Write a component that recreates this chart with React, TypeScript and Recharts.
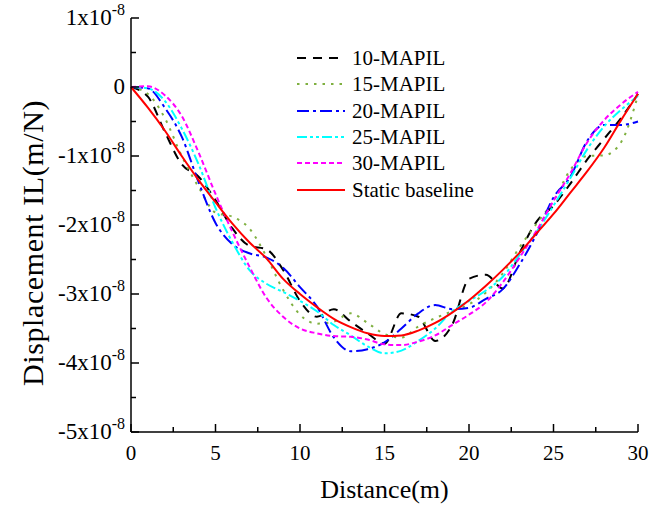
import React from "react"
import { LineChart, Line, XAxis, YAxis, Legend } from "recharts"

const FONT = '"Liberation Serif", "Times New Roman", serif'

// distance along the beam (m)
const distance = [0, 1, 2, 3, 4, 5, 6, 7, 8, 9, 10, 11, 12, 13, 14, 15, 16, 17, 18, 19, 20, 21, 22, 23, 24, 25, 26, 27, 28, 29, 30]

// displacement IL, in units of 1e-8 m/N
const mapil10 = [0, -0.14, -0.65, -1.12, -1.3, -1.64, -2.05, -2.3, -2.35, -2.65, -3.1, -3.33, -3.22, -3.4, -3.57, -3.72, -3.28, -3.33, -3.68, -3.45, -2.78, -2.72, -2.92, -2.4, -1.95, -1.72, -1.4, -1.05, -0.75, -0.45, -0.1]
const mapil15 = [0, -0.1, -0.45, -1.0, -1.45, -1.82, -1.88, -2.05, -2.45, -2.94, -3.3, -3.43, -3.4, -3.28, -3.42, -3.58, -3.63, -3.47, -3.35, -3.25, -3.15, -2.98, -2.7, -2.32, -1.98, -1.65, -1.2, -1.0, -0.99, -0.8, -0.12]
const mapil20 = [0, -0.02, -0.3, -0.72, -1.38, -1.97, -2.28, -2.41, -2.47, -2.62, -2.9, -3.18, -3.63, -3.83, -3.8, -3.7, -3.5, -3.28, -3.16, -3.22, -3.2, -3.07, -2.93, -2.57, -2.13, -1.6, -1.3, -0.78, -0.55, -0.55, -0.5]
const mapil25 = [0, -0.02, -0.2, -0.6, -1.12, -1.75, -2.25, -2.65, -2.85, -2.97, -3.1, -3.25, -3.45, -3.6, -3.76, -3.86, -3.82, -3.68, -3.5, -3.25, -3.1, -2.95, -2.75, -2.43, -2.1, -1.72, -1.32, -0.9, -0.57, -0.33, -0.13]
const mapil30 = [0, 0.01, -0.12, -0.42, -0.95, -1.55, -2.1, -2.6, -3.05, -3.33, -3.5, -3.57, -3.61, -3.62, -3.66, -3.73, -3.74, -3.69, -3.6, -3.45, -3.3, -3.12, -2.83, -2.47, -2.08, -1.65, -1.25, -0.8, -0.48, -0.25, -0.07]
const staticBaseline = [0, -0.3, -0.63, -1.0, -1.35, -1.67, -1.98, -2.25, -2.48, -2.78, -3.0, -3.19, -3.36, -3.48, -3.57, -3.61, -3.6, -3.53, -3.42, -3.27, -3.09, -2.88, -2.65, -2.4, -2.12, -1.84, -1.53, -1.22, -0.88, -0.48, -0.1]

const xTicks = [0, 2.5, 5, 7.5, 10, 12.5, 15, 17.5, 20, 22.5, 25, 27.5, 30]
const yTicks = [-5, -4.5, -4, -3.5, -3, -2.5, -2, -1.5, -1, -0.5, 0, 0.5, 1]

const series = [
  { key: "m10", name: "10-MAPIL", color: "#000000", dash: "9 7" },
  { key: "m15", name: "15-MAPIL", color: "#7fb040", dash: "2.5 6" },
  { key: "m20", name: "20-MAPIL", color: "#0000ff", dash: "12 4 3 4" },
  { key: "m25", name: "25-MAPIL", color: "#00ffff", dash: "10 3 3 3 3 3" },
  { key: "m30", name: "30-MAPIL", color: "#ff00ff", dash: "5 3" },
  { key: "st", name: "Static baseline", color: "#ff0000", dash: undefined },
]

const chartData = distance.map((d, i) => ({
  x: d,
  m10: mapil10[i],
  m15: mapil15[i],
  m20: mapil20[i],
  m25: mapil25[i],
  m30: mapil30[i],
  st: staticBaseline[i],
}))

const isMajorX = (v: number) => v % 5 === 0
const isMajorY = (v: number) => Number.isInteger(v)

function BottomTick({ x, y, payload }: any) {
  const major = isMajorX(payload.value)
  return (
    <g>
      <line x1={x} x2={x} y1={y} y2={y - (major ? 8 : 5)} stroke="#000" strokeWidth={1.5} />
      {major && (
        <text x={x} y={y + 28} textAnchor="middle" fontSize={21} fontFamily={FONT} fill="#000">
          {payload.value}
        </text>
      )}
    </g>
  )
}

function TopTick({ x, y, payload }: any) {
  const major = isMajorX(payload.value)
  return <line x1={x} x2={x} y1={y} y2={y + (major ? 8 : 5)} stroke="#000" strokeWidth={1.5} />
}

function LeftTick({ x, y, payload }: any) {
  const v = payload.value
  const major = isMajorY(v)
  return (
    <g>
      <line x1={x} x2={x + (major ? 8 : 5)} y1={y} y2={y} stroke="#000" strokeWidth={1.5} />
      {major && (
        <text x={x - 6} y={y + 7} textAnchor="end" fontSize={23} fontFamily={FONT} fill="#000">
          {v === 0 ? (
            "0"
          ) : (
            <>
              {`${v}x10`}
              <tspan dy={-10} fontSize={16}>-8</tspan>
            </>
          )}
        </text>
      )}
    </g>
  )
}

function RightTick({ x, y, payload }: any) {
  const major = isMajorY(payload.value)
  return <line x1={x} x2={x - (major ? 8 : 5)} y1={y} y2={y} stroke="#000" strokeWidth={1.5} />
}

function YTitle({ viewBox }: any) {
  const cx = 32
  const cy = viewBox.y + viewBox.height / 2 + 18
  return (
    <text
      x={cx}
      y={cy}
      transform={`rotate(-90 ${cx} ${cy})`}
      textAnchor="middle"
      dominantBaseline="central"
      fontSize={30}
      letterSpacing={0.6}
      fontFamily={FONT}
      fill="#000"
    >
      Displacement IL(m/N)
    </text>
  )
}

function LegendBox() {
  return (
    <div style={{ fontFamily: FONT, fontSize: 21, color: "#000" }}>
      {series.map((s) => (
        <div key={s.key} style={{ display: "flex", alignItems: "center", height: 26.3 }}>
          <svg width={48} height={10} style={{ marginRight: 7 }}>
            <line x1={0} x2={48} y1={5} y2={5} stroke={s.color} strokeWidth={2.2} strokeDasharray={s.dash} />
          </svg>
          <span style={{ lineHeight: "26px" }}>{s.name}</span>
        </div>
      ))}
    </div>
  )
}

export default function App() {
  return (
    <div style={{ position: "absolute", left: 0, top: 0, width: 656, height: 506, background: "#fff" }}>
      <LineChart width={656} height={506} data={chartData} margin={{ top: 18, right: 18, bottom: 0, left: 0 }}>
        <XAxis
          dataKey="x"
          type="number"
          domain={[0, 30]}
          ticks={xTicks}
          interval={0}
          height={74}
          tickSize={0}
          tickMargin={0}
          tick={<BottomTick />}
          axisLine={{ stroke: "#000", strokeWidth: 1.5 }}
          label={{ value: "Distance(m)", position: "insideBottom", offset: 8, fontSize: 26, fontFamily: FONT, fill: "#000" }}
        />
        <XAxis
          xAxisId="top"
          orientation="top"
          dataKey="x"
          type="number"
          domain={[0, 30]}
          ticks={xTicks}
          interval={0}
          height={0}
          tickSize={0}
          tickMargin={0}
          tick={<TopTick />}
          axisLine={{ stroke: "#000", strokeWidth: 1.5 }}
        />
        <YAxis
          type="number"
          domain={[-5, 1]}
          ticks={yTicks}
          interval={0}
          width={131}
          tickSize={0}
          tickMargin={0}
          allowDataOverflow
          tick={<LeftTick />}
          axisLine={{ stroke: "#000", strokeWidth: 1.5 }}
          label={<YTitle />}
        />
        <YAxis
          yAxisId="right"
          orientation="right"
          type="number"
          domain={[-5, 1]}
          ticks={yTicks}
          interval={0}
          width={0}
          tickSize={0}
          tickMargin={0}
          tick={<RightTick />}
          axisLine={{ stroke: "#000", strokeWidth: 1.5 }}
        />
        <Legend
          layout="vertical"
          align="center"
          verticalAlign="middle"
          content={<LegendBox />}
          wrapperStyle={{ left: 297, top: 45, width: "auto" }}
        />
        {series.map((s) => (
          <Line
            key={s.key}
            type="monotone"
            dataKey={s.key}
            name={s.name}
            stroke={s.color}
            strokeWidth={2}
            strokeDasharray={s.dash}
            dot={false}
            activeDot={false}
            isAnimationActive={false}
          />
        ))}
      </LineChart>
    </div>
  )
}
